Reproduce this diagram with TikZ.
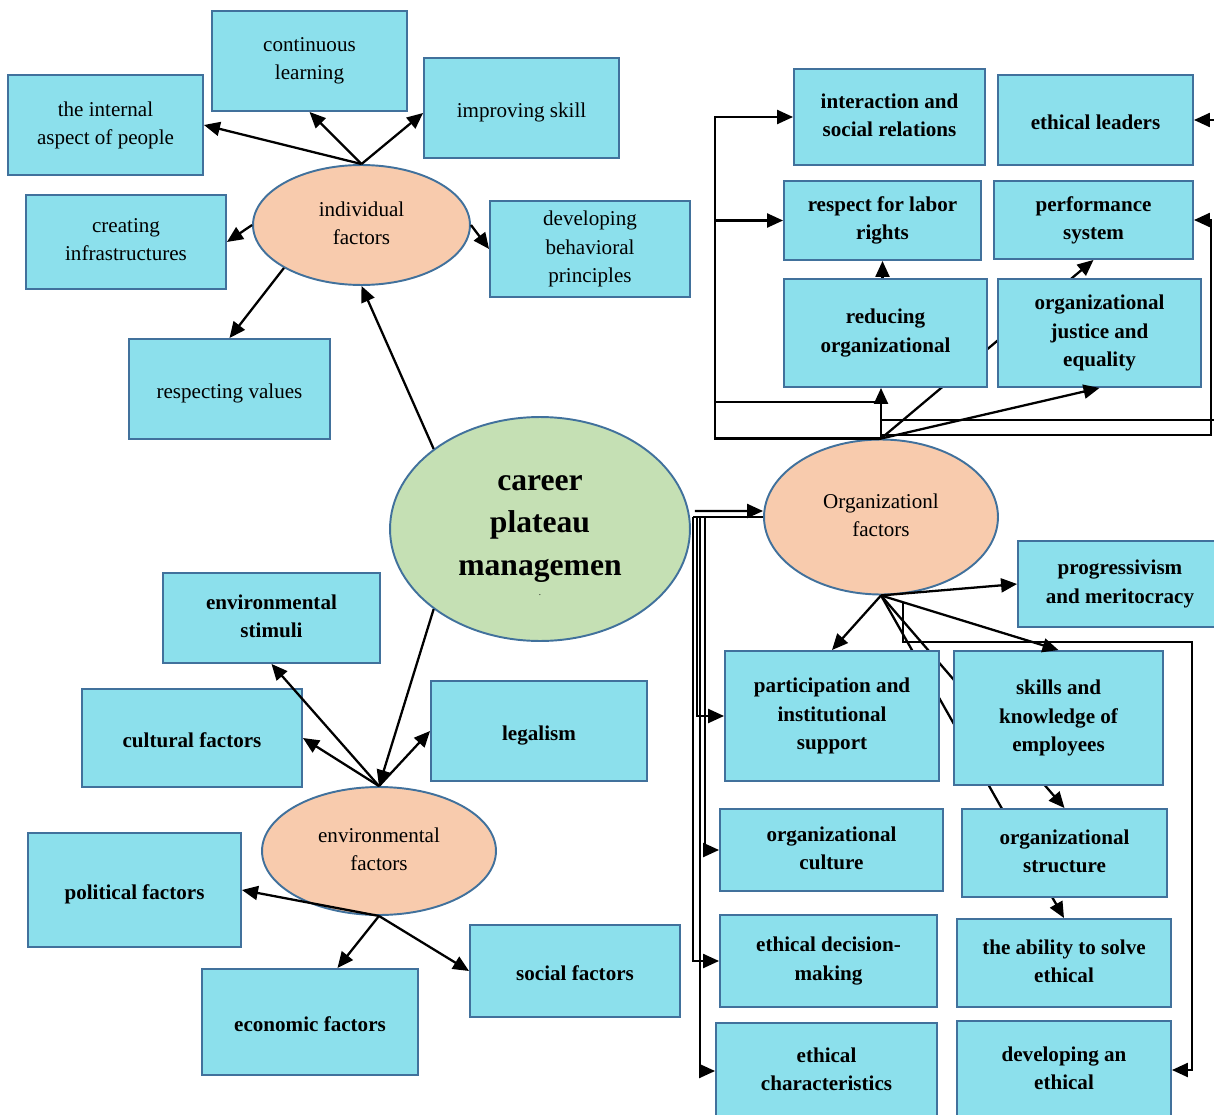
\documentclass[tikz,border=0pt]{standalone}
\usepackage{fontspec}
\setmainfont{Liberation Serif}
\usetikzlibrary{shapes.geometric,arrows.meta,calc,backgrounds}
\definecolor{boxcyan}{RGB}{140,224,236}
\definecolor{boxedge}{RGB}{65,113,156}
\definecolor{peach}{RGB}{248,203,173}
\definecolor{sage}{RGB}{197,224,180}
\newcommand{\topgap}{\rule{0pt}{13.5pt}}
\newcommand{\botgap}{\rule[-2.5pt]{0pt}{2.5pt}}
\begin{document}
\begin{tikzpicture}[x=0.02cm, y=-0.02cm,
  box/.style={draw=boxedge, fill=boxcyan, line width=1.1pt, align=center, inner sep=1pt, font=\fontsize{12}{16}\selectfont,
    execute at begin node=\topgap, execute at end node=\botgap},
  bbox/.style={box, font=\bfseries\fontsize{12}{16}\selectfont},
  factor/.style={ellipse, draw=boxedge, fill=peach, line width=1.1pt, align=center, inner sep=0pt, font=\fontsize{12}{16}\selectfont,
    execute at begin node=\topgap, execute at end node=\botgap},
  arr/.style={-{Triangle[length=3.2mm,width=2.8mm]}, line width=1.3pt},
  link/.style={line width=1.3pt}]
\useasboundingbox (0,0) rectangle (1214,1115);
\clip (0,0) rectangle (1214,1115);
\node[box, minimum width=3.9cm, minimum height=2cm] (intl) at (105.5,125) {the internal\\aspect of people};
\node[box, minimum width=3.9cm, minimum height=2cm] (cont) at (309.5,61) {continuous\\learning};
\node[box, minimum width=3.9cm, minimum height=2cm] (impr) at (521.5,108) {improving skill};
\node[box, minimum width=4cm, minimum height=1.88cm] (crea) at (126,242) {creating\\infrastructures};
\node[factor, minimum width=4.34cm, minimum height=2.4cm] (indiv) at (361.5,225) {individual\\factors};
\node[box, minimum width=4cm, minimum height=1.92cm] (devb) at (590,249) {developing\\behavioral\\principles};
\node[box, minimum width=4.02cm, minimum height=2cm] (resv) at (229.5,389) {respecting values};
\node[ellipse, draw=boxedge, fill=sage, line width=1.1pt, align=center, inner sep=0pt, minimum width=6cm, minimum height=4.48cm, font=\bfseries\fontsize{18}{24}\selectfont,
  execute at begin node={\rule{0pt}{20pt}}, execute at end node={\rule[-4pt]{0pt}{4pt}}] (career) at (540,529) {career\\plateau\\managemen};
\node[font=\tiny, inner sep=0pt] (cdot) at (540,595) {.};
\node[bbox, minimum width=4.34cm, minimum height=1.8cm] (stim) at (271.5,618) {environmental\\stimuli};
\node[bbox, minimum width=4.4cm, minimum height=1.96cm] (cult) at (192,738) {cultural factors};
\node[bbox, minimum width=4.32cm, minimum height=2cm] (legl) at (539,731) {legalism};
\node[factor, minimum width=4.68cm, minimum height=2.56cm] (envf) at (379,851) {environmental\\factors};
\node[bbox, minimum width=4.26cm, minimum height=2.28cm] (polt) at (134.5,890) {political factors};
\node[bbox, minimum width=4.32cm, minimum height=2.12cm] (econ) at (310,1022) {economic factors};
\node[bbox, minimum width=4.2cm, minimum height=1.84cm] (socl) at (575,971) {social factors};
\node[factor, minimum width=4.68cm, minimum height=3.1cm] (orgf) at (881,517) {Organizationl\\factors};
\node[bbox, minimum width=3.82cm, minimum height=1.92cm] (intr) at (889.5,117) {interaction and\\social relations};
\node[bbox, minimum width=3.9cm, minimum height=1.8cm] (ethl) at (1095.5,120) {ethical leaders};
\node[bbox, minimum width=3.94cm, minimum height=1.58cm] (labr) at (882.5,220.5) {respect for labor\\rights};
\node[bbox, minimum width=3.98cm, minimum height=1.56cm] (perf) at (1093.5,220) {performance\\system};
\node[bbox, minimum width=4.06cm, minimum height=2.16cm] (redu) at (885.5,333) {reducing\\organizational};
\node[bbox, minimum width=4.06cm, minimum height=2.16cm] (just) at (1099.5,333) {organizational\\justice and\\equality};
\node[bbox, minimum width=4.08cm, minimum height=1.72cm] (prog) at (1120,584) {progressivism\\and meritocracy};
\node[bbox, minimum width=4.28cm, minimum height=2.6cm] (part) at (832,716) {participation and\\institutional\\support};
\node[bbox, minimum width=4.18cm, minimum height=2.68cm] (skil) at (1058.5,718) {skills and\\knowledge of\\employees};
\node[bbox, minimum width=4.46cm, minimum height=1.64cm] (ocul) at (831.5,850) {organizational\\culture};
\node[bbox, minimum width=4.1cm, minimum height=1.76cm] (ostr) at (1064.5,853) {organizational\\structure};
\node[bbox, minimum width=4.34cm, minimum height=1.84cm] (dmak) at (828.5,961) {ethical decision-\\making};
\node[bbox, minimum width=4.28cm, minimum height=1.76cm] (abil) at (1064,963) {the ability to solve\\ethical};
\node[bbox, minimum width=4.42cm, minimum height=1.92cm] (echr) at (826.5,1071) {ethical\\characteristics};
\node[bbox, minimum width=4.28cm, minimum height=1.96cm] (dvlp) at (1064,1070) {developing an\\ethical};
\draw[arr] (indiv.north) -- (intl.east);
\draw[arr] (indiv.north) -- (cont.south);
\draw[arr] (indiv.north) -- ([yshift=-0.1cm]impr.west);
\draw[arr] (indiv.west) -- (crea.east);
\draw[arr] (indiv.east) -- (devb.west);
\draw[arr] (indiv.209) -- (resv.north);
\draw[arr] (career.143) -- (indiv.south);
\draw[arr] (career.217) -- (envf.north);
\draw[arr] (envf.north) -- (stim.south);
\draw[arr] (envf.north) -- (cult.east);
\draw[arr] (envf.north) -- (legl.west);
\draw[arr] (envf.south) -- (polt.east);
\draw[arr] (envf.south) -- ([xshift=0.55cm]econ.north);
\draw[arr] (envf.south) -- (socl.west);
\coordinate (bus) at ($(career.east)+(2,-12)$);
\draw[arr] ($(career.east)+(4,-18)$) -- ([yshift=0.12cm]orgf.west);
\draw[link] (orgf.west) -- (bus);
\draw[arr] (bus) |- (dmak.west);
\draw[arr] ($(bus)+(4,0)$) |- (part.west);
\draw[arr] ($(bus)+(7,0)$) |- (echr.west);
\draw[arr] ($(bus)+(12,0)$) |- (ocul.west);
\coordinate (loopx) at ($(intr.west)+(-78,0)$);
\coordinate (midbar) at (716,402);
\coordinate (edgeA) at (1214,420);
\coordinate (edgeB) at (1214,120);
\coordinate (loopR) at (1211,435);
\coordinate (loopS) at (1192,642);
\draw[arr] (orgf.north) -| (loopx) -- (intr.west);
\draw[arr] (loopx |- labr.west) -- (labr.west);
\draw[link] (midbar) -- (midbar -| orgf.north);
\draw[arr] (orgf.north) -- (orgf.north |- redu.south);
\draw[arr] (redu.north -| labr.south) -- (labr.south);
\draw[arr] (orgf.north) -- (just.south);
\draw[link] (orgf.north |- edgeA) -- (edgeA);
\draw[arr] (orgf.north |- loopR) -- (loopR) |- (perf.east);
\draw[arr] (edgeB) -- (ethl.east);
\draw[arr] (orgf.south) -- (prog.west);
\draw[arr] (orgf.south) -- (part.north);
\draw[arr] (orgf.south) -- (skil.north);
\draw[arr] ($(orgf.south)!0.125!(skil.north)$) |- (loopS) |- (dvlp.east);
\begin{pgfonlayer}{background}
\draw[arr] (orgf.north) -- (perf.south);
\draw[arr] (orgf.south) -- (ostr.north);
\draw[arr] (orgf.south) -- (abil.north);
\end{pgfonlayer}
\end{tikzpicture}
\end{document}
